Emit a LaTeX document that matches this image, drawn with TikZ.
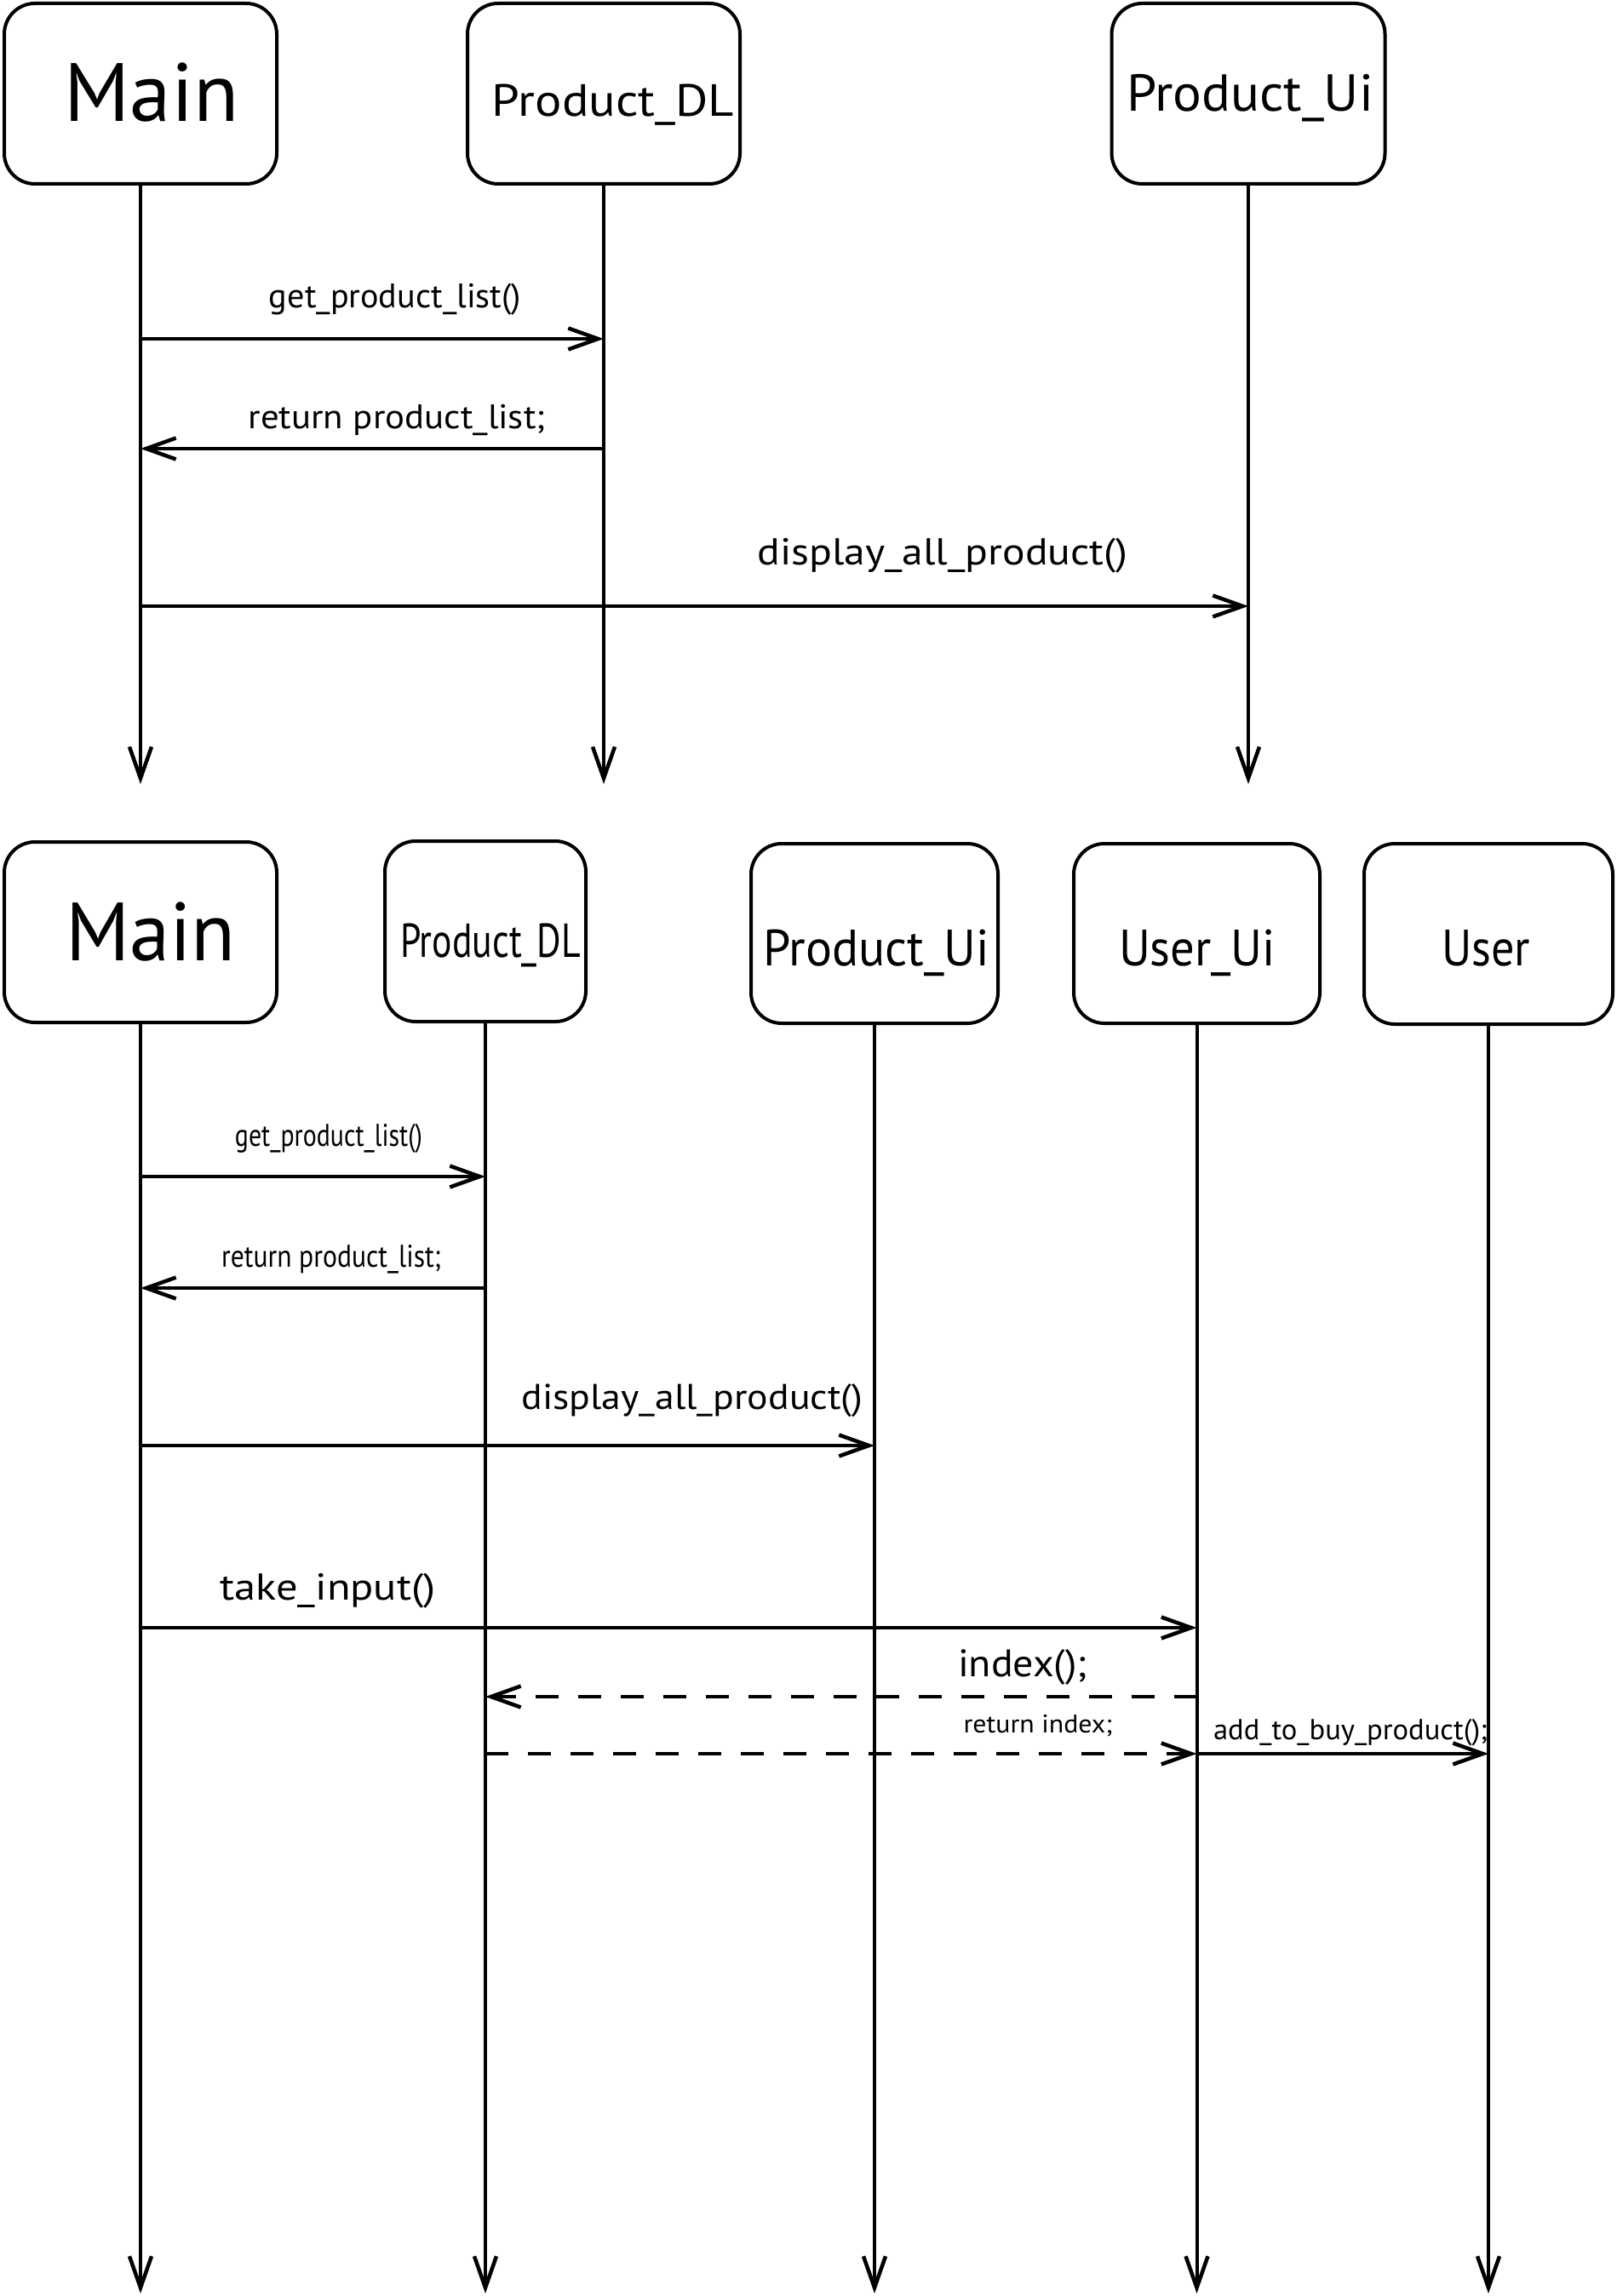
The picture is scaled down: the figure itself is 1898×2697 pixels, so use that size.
\documentclass[tikz,border=0pt]{standalone}
\usepackage{graphicx}
\usepackage{fontspec}
\setmainfont{PT Sans}
\usetikzlibrary{arrows.meta}
\newcommand\fitlbl[3]{\resizebox{#1pt}{\height}{\fontsize{#2pt}{#2pt}\selectfont #3}}
\tikzset{
  box/.style={draw, line width=4pt, rounded corners=36pt, inner sep=0pt},
  life/.style={line width=4pt, -{Straight Barb[length=37pt,width=26pt,line width=4.5pt]}},
  msg/.style={line width=4.5pt, -{Straight Barb[length=35pt,width=25pt]}},
  retmsg/.style={msg, dash pattern=on 27pt off 23pt},
  lbl/.style={inner sep=0pt, anchor=base},
}
\begin{document}
\begin{tikzpicture}[x=1pt,y=-1pt]
\useasboundingbox (0,0) rectangle (1898,2697);
% ---------- top diagram ----------
\node[box, minimum width=320pt, minimum height=212pt] (tMain) at (165,110) {};
\node[box, minimum width=320pt, minimum height=212pt] (tDL) at (709,110) {};
\node[box, minimum width=321pt, minimum height=212pt] (tUi) at (1466,110) {};
\node[lbl] (tMainT) at (178,143) {\fitlbl{205}{97}{Main}};
\node[lbl] (tDLT) at (720,137) {\fitlbl{284}{53}{Product\_DL}};
\node[lbl] (tUiT) at (1468,131) {\fitlbl{290}{61}{Product\_Ui}};
\coordinate (tEnd) at (0,921);
\draw[life] (tMain) -- (tMain |- tEnd);
\draw[life] (tDL) -- (tDL |- tEnd);
\draw[life] (tUi) -- (tUi |- tEnd);
\coordinate (m1) at (0,398);
\coordinate (m2) at (0,527);
\coordinate (m3) at (0,712);
\draw[msg] (tMain |- m1) -- (tDL |- m1);
\draw[msg] (tDL |- m2) -- (tMain |- m2);
\draw[msg] (tMain |- m3) -- (tUi |- m3);
\node[lbl] (l1) at (464,361) {\fitlbl{296}{40}{get\_product\_list()}};
\node[lbl] (l2) at (466,503) {\fitlbl{349}{40}{return product\_list;}};
\node[lbl] (l3) at (1107,663) {\fitlbl{435}{44}{display\_all\_product()}};
% ---------- bottom diagram ----------
\node[box, minimum width=320pt, minimum height=212pt] (bMain) at (165,1095) {};
\node[box, minimum width=236pt, minimum height=212pt] (bDL) at (570,1094) {};
\node[box, minimum width=290pt, minimum height=211pt] (bUi) at (1027,1096.5) {};
\node[box, minimum width=289pt, minimum height=211pt] (bUU) at (1405.5,1096.5) {};
\node[box, minimum width=292pt, minimum height=212pt] (bUser) at (1748,1097) {};
\node[lbl] (bMainT) at (177,1128) {\fitlbl{200}{97}{Main}};
\node[lbl] (bDLT) at (576,1124) {\fitlbl{212}{56}{Product\_DL}};
\node[lbl] (bUiT) at (1029,1134) {\fitlbl{266}{60}{Product\_Ui}};
\node[lbl] (bUUT) at (1406,1134) {\fitlbl{184}{60}{User\_Ui}};
\node[lbl] (bUserT) at (1745,1134) {\fitlbl{104}{60}{User}};
\coordinate (bEnd) at (0,2694);
\draw[life] (bMain) -- (bMain |- bEnd);
\draw[life] (bDL) -- (bDL |- bEnd);
\draw[life] (bUi) -- (bUi |- bEnd);
\draw[life] (bUU) -- (bUU |- bEnd);
\draw[life] (bUser) -- (bUser |- bEnd);
\coordinate (n1) at (0,1382);
\coordinate (n2) at (0,1513);
\coordinate (n3) at (0,1698);
\coordinate (n4) at (0,1912);
\coordinate (n5) at (0,1993);
\coordinate (n6) at (0,2060);
\draw[msg] (bMain |- n1) -- (bDL |- n1);
\draw[msg] (bDL |- n2) -- (bMain |- n2);
\draw[msg] (bMain |- n3) -- (bUi |- n3);
\draw[msg] (bMain |- n4) -- (bUU |- n4);
\draw[retmsg] (bUU |- n5) -- (bDL |- n5);
\draw[retmsg] (bDL |- n6) -- (bUU |- n6);
\draw[msg] (bUU |- n6) -- (bUser |- n6);
\node[lbl] (k1) at (386,1346) {\fitlbl{220}{37}{get\_product\_list()}};
\node[lbl] (k2) at (389,1488) {\fitlbl{258}{37}{return product\_list;}};
\node[lbl] (k3) at (813,1655) {\fitlbl{401}{42}{display\_all\_product()}};
\node[lbl] (k4) at (385,1879) {\fitlbl{253}{44}{take\_input()}};
\node[lbl] (k5) at (1201,1969) {\fitlbl{152}{45}{index();}};
\node[lbl] (k6) at (1219,2035) {\fitlbl{175}{30}{return index;}};
\node[lbl] (k7) at (1586,2043) {\fitlbl{322}{34}{add\_to\_buy\_product();}};
\end{tikzpicture}
\end{document}
